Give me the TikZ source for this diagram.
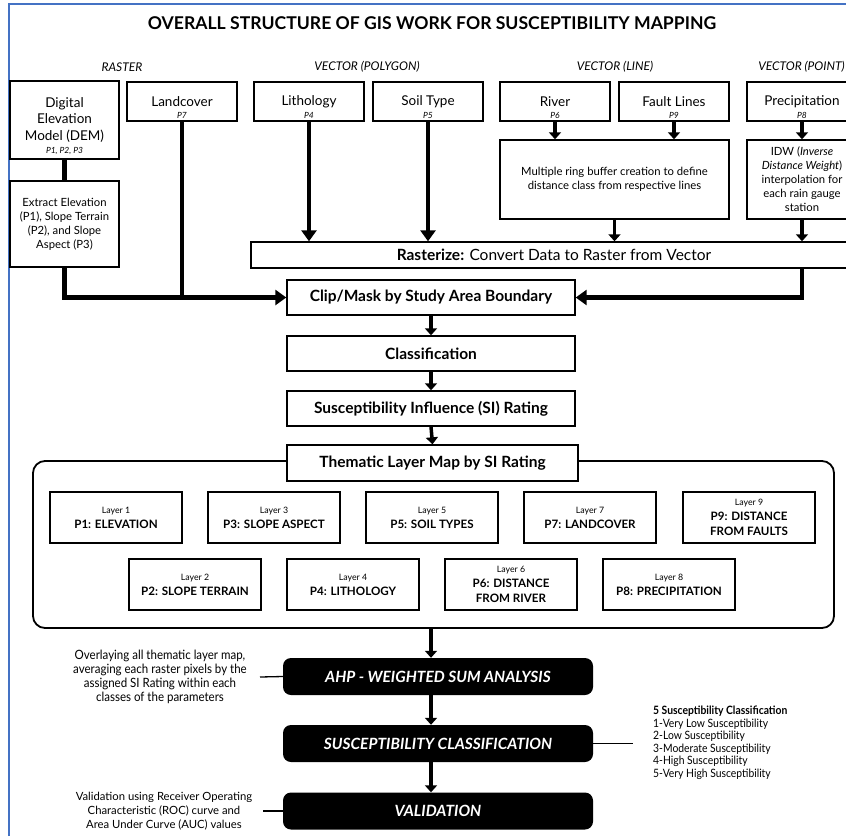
\documentclass[tikz,border=0pt]{standalone}
\usepackage{fontspec}
\setmainfont{Lato}
\newfontfamily\narrowfont[FakeStretch=0.9]{Lato}
\usetikzlibrary{arrows.meta}
\definecolor{frameblue}{RGB}{68,114,196}

\begin{document}
\begin{tikzpicture}[x=1pt,y=-1pt,
  box/.style={draw, line width=1.4pt, fill=white, inner sep=0pt, align=center, font=\fontsize{13.5}{16.5}\selectfont},
  ptag/.style={inner sep=0pt, font=\itshape\fontsize{8.5}{9}\selectfont},
  smalltext/.style={font=\fontsize{11.3}{14}\selectfont},
  mainbox/.style={box, minimum width=288, minimum height=35, font=\bfseries\fontsize{15.5}{17}\selectfont},
  layer/.style={box, minimum width=132, minimum height=51, font=\bfseries\fontsize{11.6}{15}\selectfont},
  blackbox/.style={fill=black, rounded corners=8pt, text=white, inner sep=0pt, minimum width=310, minimum height=37, font=\bfseries\itshape\fontsize{15.5}{17}\selectfont},
  cat/.style={font=\itshape\fontsize{12}{14}\selectfont},
  note/.style={align=center, font=\narrowfont\fontsize{12.8}{14}\selectfont},
  bar/.style={line width=4.5pt},
  bigarrow/.style={line width=4.5pt, -{Triangle[length=11pt,width=15pt]}},
  smallarrow/.style={line width=3.5pt, -{Triangle[length=7pt,width=12pt]}}
]
\useasboundingbox (0,0) rectangle (846,836);
\draw[frameblue, line width=1.6pt] (9,836) -- (9,4) -- (846,4);

\node[font=\bfseries\fontsize{17.6}{20}\selectfont] (title) at (432,23.5) {OVERALL STRUCTURE OF GIS WORK FOR SUSCEPTIBILITY MAPPING};

% data types
\foreach \x/\txt [count=\i] in {122/RASTER, 367/VECTOR (POLYGON), 615/VECTOR (LINE), 801.5/VECTOR (POINT)}
  \node[cat] (cat\i) at (\x,67) {\txt};

% input data
\node[box, minimum width=109, minimum height=78, label={[ptag, anchor=south, yshift=5]south:{P1, P2, P3}}] (dem) at (64.5,120) {Digital\\Elevation\\Model (DEM)};
\foreach \n/\x/\txt/\p in {land/182/Landcover/P7, litho/309/Lithology/P4, soil/428/Soil Type/P5, river/555/River/P6, fault/674/Fault Lines/P9, precip/802/Precipitation/P8}
  \node[box, minimum width=110, minimum height=39, label={[ptag, anchor=south, yshift=3]south:\p}] (\n) at (\x,101.5) {\txt};

% processing
\node[box, smalltext, minimum width=109, minimum height=86] (extract) at (64.5,224) {Extract Elevation\\(P1), Slope Terrain\\(P2), and Slope\\Aspect (P3)};
\node[box, smalltext, minimum width=229, minimum height=79] (buffer) at (614.5,179.5) {Multiple ring buffer creation to define\\distance class from respective lines};
\node[box, smalltext, minimum width=110, minimum height=79] (idw) at (802,179.5) {IDW (\textit{Inverse}\\\textit{Distance Weight})\\interpolation for\\each rain gauge\\station};
\node[box, minimum width=606, minimum height=26, font=\fontsize{15.5}{17}\selectfont] (raster) at (554,255) {\textbf{Rasterize:} Convert Data to Raster from Vector};

\node[mainbox] (clip) at (431,297.5) {Clip/Mask by Study Area Boundary};
\node[mainbox] (class) at (431,353.5) {Classification};
\node[mainbox] (rating) at (431,408.5) {Susceptibility Influence (SI) Rating};

% thematic layers
\node[draw, line width=1.8pt, rounded corners=12pt, minimum width=801, minimum height=167, inner sep=0pt] (panel) at (433.5,544.5) {};
\node[mainbox, minimum width=291, minimum height=36] (theme) at (432.5,463) {Thematic Layer Map by SI Rating};
\foreach \n/\x/\y/\txt in {1/116/517.5/P1: ELEVATION, 3/274/517.5/P3: SLOPE ASPECT, 5/432/517.5/P5: SOIL TYPES, 7/590/517.5/P7: LANDCOVER, 9/749/517.5/P9: DISTANCE\\FROM FAULTS, 2/195/584.5/P2: SLOPE TERRAIN, 4/353/584.5/P4: LITHOLOGY, 6/511/584.5/P6: DISTANCE\\FROM RIVER, 8/669/584.5/P8: PRECIPITATION}
  \node[layer] (L\n) at (\x,\y) {{\mdseries\fontsize{8.8}{15}\selectfont Layer \n}\\\txt};

% analysis
\node[blackbox] (ahp) at (438,676.5) {AHP - WEIGHTED SUM ANALYSIS};
\node[blackbox] (suscl) at (438,743.5) {SUSCEPTIBILITY CLASSIFICATION};
\node[blackbox] (valid) at (438,811) {VALIDATION};

\node[note] (ahpnote) at (160,677) {Overlaying all thematic layer map,\\averaging each raster pixels by the\\assigned SI Rating within each\\classes of the parameters};
\node[align=left, anchor=north west, inner sep=0pt, font=\narrowfont\fontsize{11.5}{12.5}\selectfont] (clslist) at (653,706) {\textbf{5 Susceptibility Classification}\\1-Very Low Susceptibility\\2-Low Susceptibility\\3-Moderate Susceptibility\\4-High Susceptibility\\5-Very High Susceptibility};
\node[align=center, font=\fontsize{11.3}{14}\selectfont] (valnote) at (164,811) {Validation using Receiver Operating\\Characteristic (ROC) curve and\\Area Under Curve (AUC) values};

\coordinate (ahpend) at (260,677);
\coordinate (clsend) at (633,743.5);
\coordinate (valend) at (263,811);
\draw[line width=1.3pt] (ahpend) -- (ahp.west);
\draw[line width=1.3pt] (suscl.east) -- (clsend);
\draw[line width=1.3pt] (valend) -- (valid.west);

% connectors
\draw[bar] (dem.south) -- (extract.north);
\draw[bigarrow] (extract.south) |- (clip.west);
\draw[bar] (land.south) -- (land.south |- clip.west);
\draw[bigarrow] (litho.south) -- (litho.south |- raster.north);
\draw[bigarrow] (soil.south) -- (soil.south |- raster.north);
\foreach \a/\b in {river/buffer, fault/buffer, precip/idw, buffer/raster, idw/raster}
  \draw[smallarrow] (\a.south) -- (\a.south |- \b.north);
\draw[bigarrow] (raster.south -| idw.south) |- (clip.east);
\foreach \a/\b in {clip/class, class/rating, rating/theme}
  \draw[smallarrow] (\a.south) -- (\b.north);
\draw[smallarrow] (panel.south -| class.south) -- (class.south |- ahp.north);
\draw[smallarrow] (class.south |- ahp.south) -- (class.south |- suscl.north);
\draw[smallarrow] (class.south |- suscl.south) -- (class.south |- valid.north);
\end{tikzpicture}
\end{document}
